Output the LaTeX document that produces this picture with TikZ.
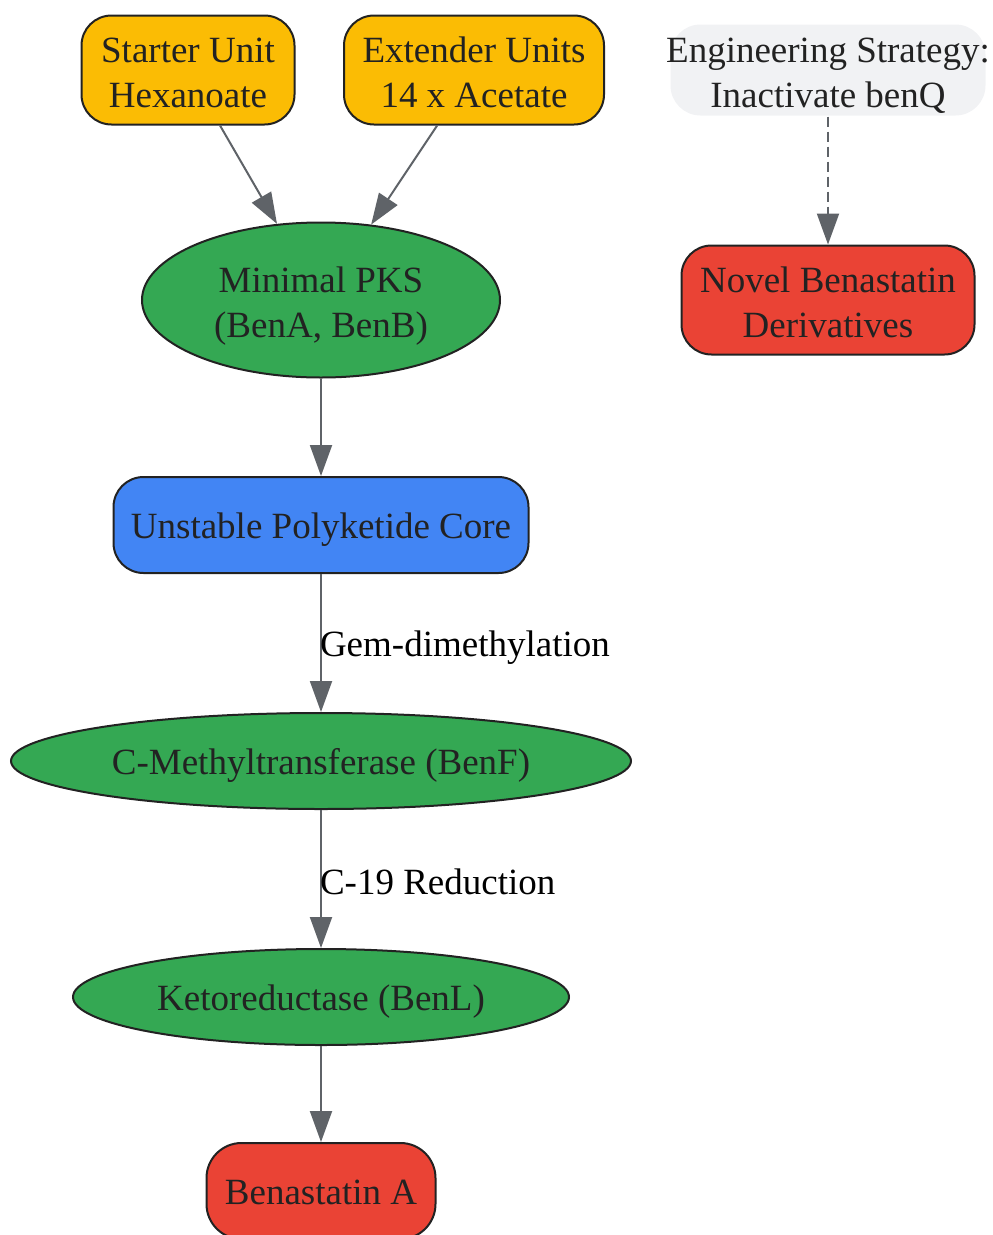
\documentclass[tikz,border=0pt]{standalone}
\usepackage{fontspec}
\setmainfont{Liberation Serif}
\usepackage[usenames,dvipsnames]{xcolor}
\usepackage{tikz}
\usetikzlibrary{shapes.geometric, arrows.meta}

\definecolor{unitcol}{HTML}{FBBC04}
\definecolor{enzcol}{HTML}{34A853}
\definecolor{corecol}{HTML}{4285F4}
\definecolor{prodcol}{HTML}{EA4335}
\definecolor{notecol}{HTML}{F1F2F4}
\definecolor{edgecol}{HTML}{5F6368}
\definecolor{inkcol}{HTML}{222222}

\newcommand{\bigtext}{\fontsize{37}{45}\selectfont}

\tikzset{
  struts/.style={execute at begin node={\rule{0pt}{35pt}},
    execute at end node={\rule[-8pt]{0pt}{0pt}}},
  twoline/.style={execute at begin node={\rule{0pt}{83pt}}},
  box/.style={draw=inkcol, line width=2pt, rounded corners=30pt, align=center,
    text=inkcol, inner sep=0pt, font=\bigtext, struts},
  enzyme/.style={ellipse, draw=inkcol, line width=2pt, fill=enzcol, align=center,
    text=inkcol, inner sep=0pt, font=\bigtext, struts},
  flow/.style={draw=edgecol, line width=2pt, -{Triangle[length=31pt, width=22pt]}},
  steplabel/.style={font=\bigtext, text=black, anchor=west, inner sep=0pt}
}

\begin{document}
\begin{tikzpicture}[x=1pt, y=-1pt]
        \useasboundingbox (0, 0) rectangle (993, 1235);

        % precursors
        \node [box, twoline, fill=unitcol, minimum width=213pt, minimum height=109pt]
          (starter) at (188, 70) {Starter Unit\\Hexanoate};
        \node [box, twoline, fill=unitcol, minimum width=260pt, minimum height=109pt]
          (extender) at (474, 70) {Extender Units\\14 x Acetate};

        % engineering note
        \node [box, twoline, draw=none, fill=notecol, minimum width=315pt, minimum height=87pt]
          (strategy) at (828, 70) {\makebox[315pt]{Engineering Strategy:}\\Inactivate benQ};
        \node [box, twoline, fill=prodcol, minimum width=293pt, minimum height=109pt]
          (novel) at (828, 300) {Novel Benastatin\\Derivatives};

        % main pathway
        \node [enzyme, twoline, minimum width=358pt, minimum height=155pt]
          (pks) at (321, 300) {Minimal PKS\\(BenA, BenB)};
        \node [box, fill=corecol, minimum width=415pt, minimum height=96pt]
          (core) at (321, 525) {Unstable Polyketide Core};
        \node [enzyme, minimum width=620pt, minimum height=96pt]
          (benF) at (321, 761) {C-Methyltransferase (BenF)};
        \node [enzyme, minimum width=496pt, minimum height=96pt]
          (benL) at (321, 997) {Ketoreductase (BenL)};
        \node [box, fill=prodcol, rounded corners=35pt, minimum width=229pt, minimum height=96pt]
          (benA) at (321, 1191) {Benastatin A};

        % connectors
        \draw [flow] (starter) -- (pks);
        \draw [flow] (extender) -- (pks);
        \draw [flow] (pks) -- (core);
        \draw [flow] (core) -- node [steplabel, xshift=-2pt, yshift=-5pt] (gem) {Gem-dimethylation} (benF);
        \draw [flow] (benF) -- node [steplabel, xshift=-2pt, yshift=-3pt] (red) {C-19 Reduction} (benL);
        \draw [flow] (benL) -- (benA);
        \draw [flow, dash pattern=on 10pt off 5pt] (strategy) -- (novel);

      \end{tikzpicture}
\end{document}
